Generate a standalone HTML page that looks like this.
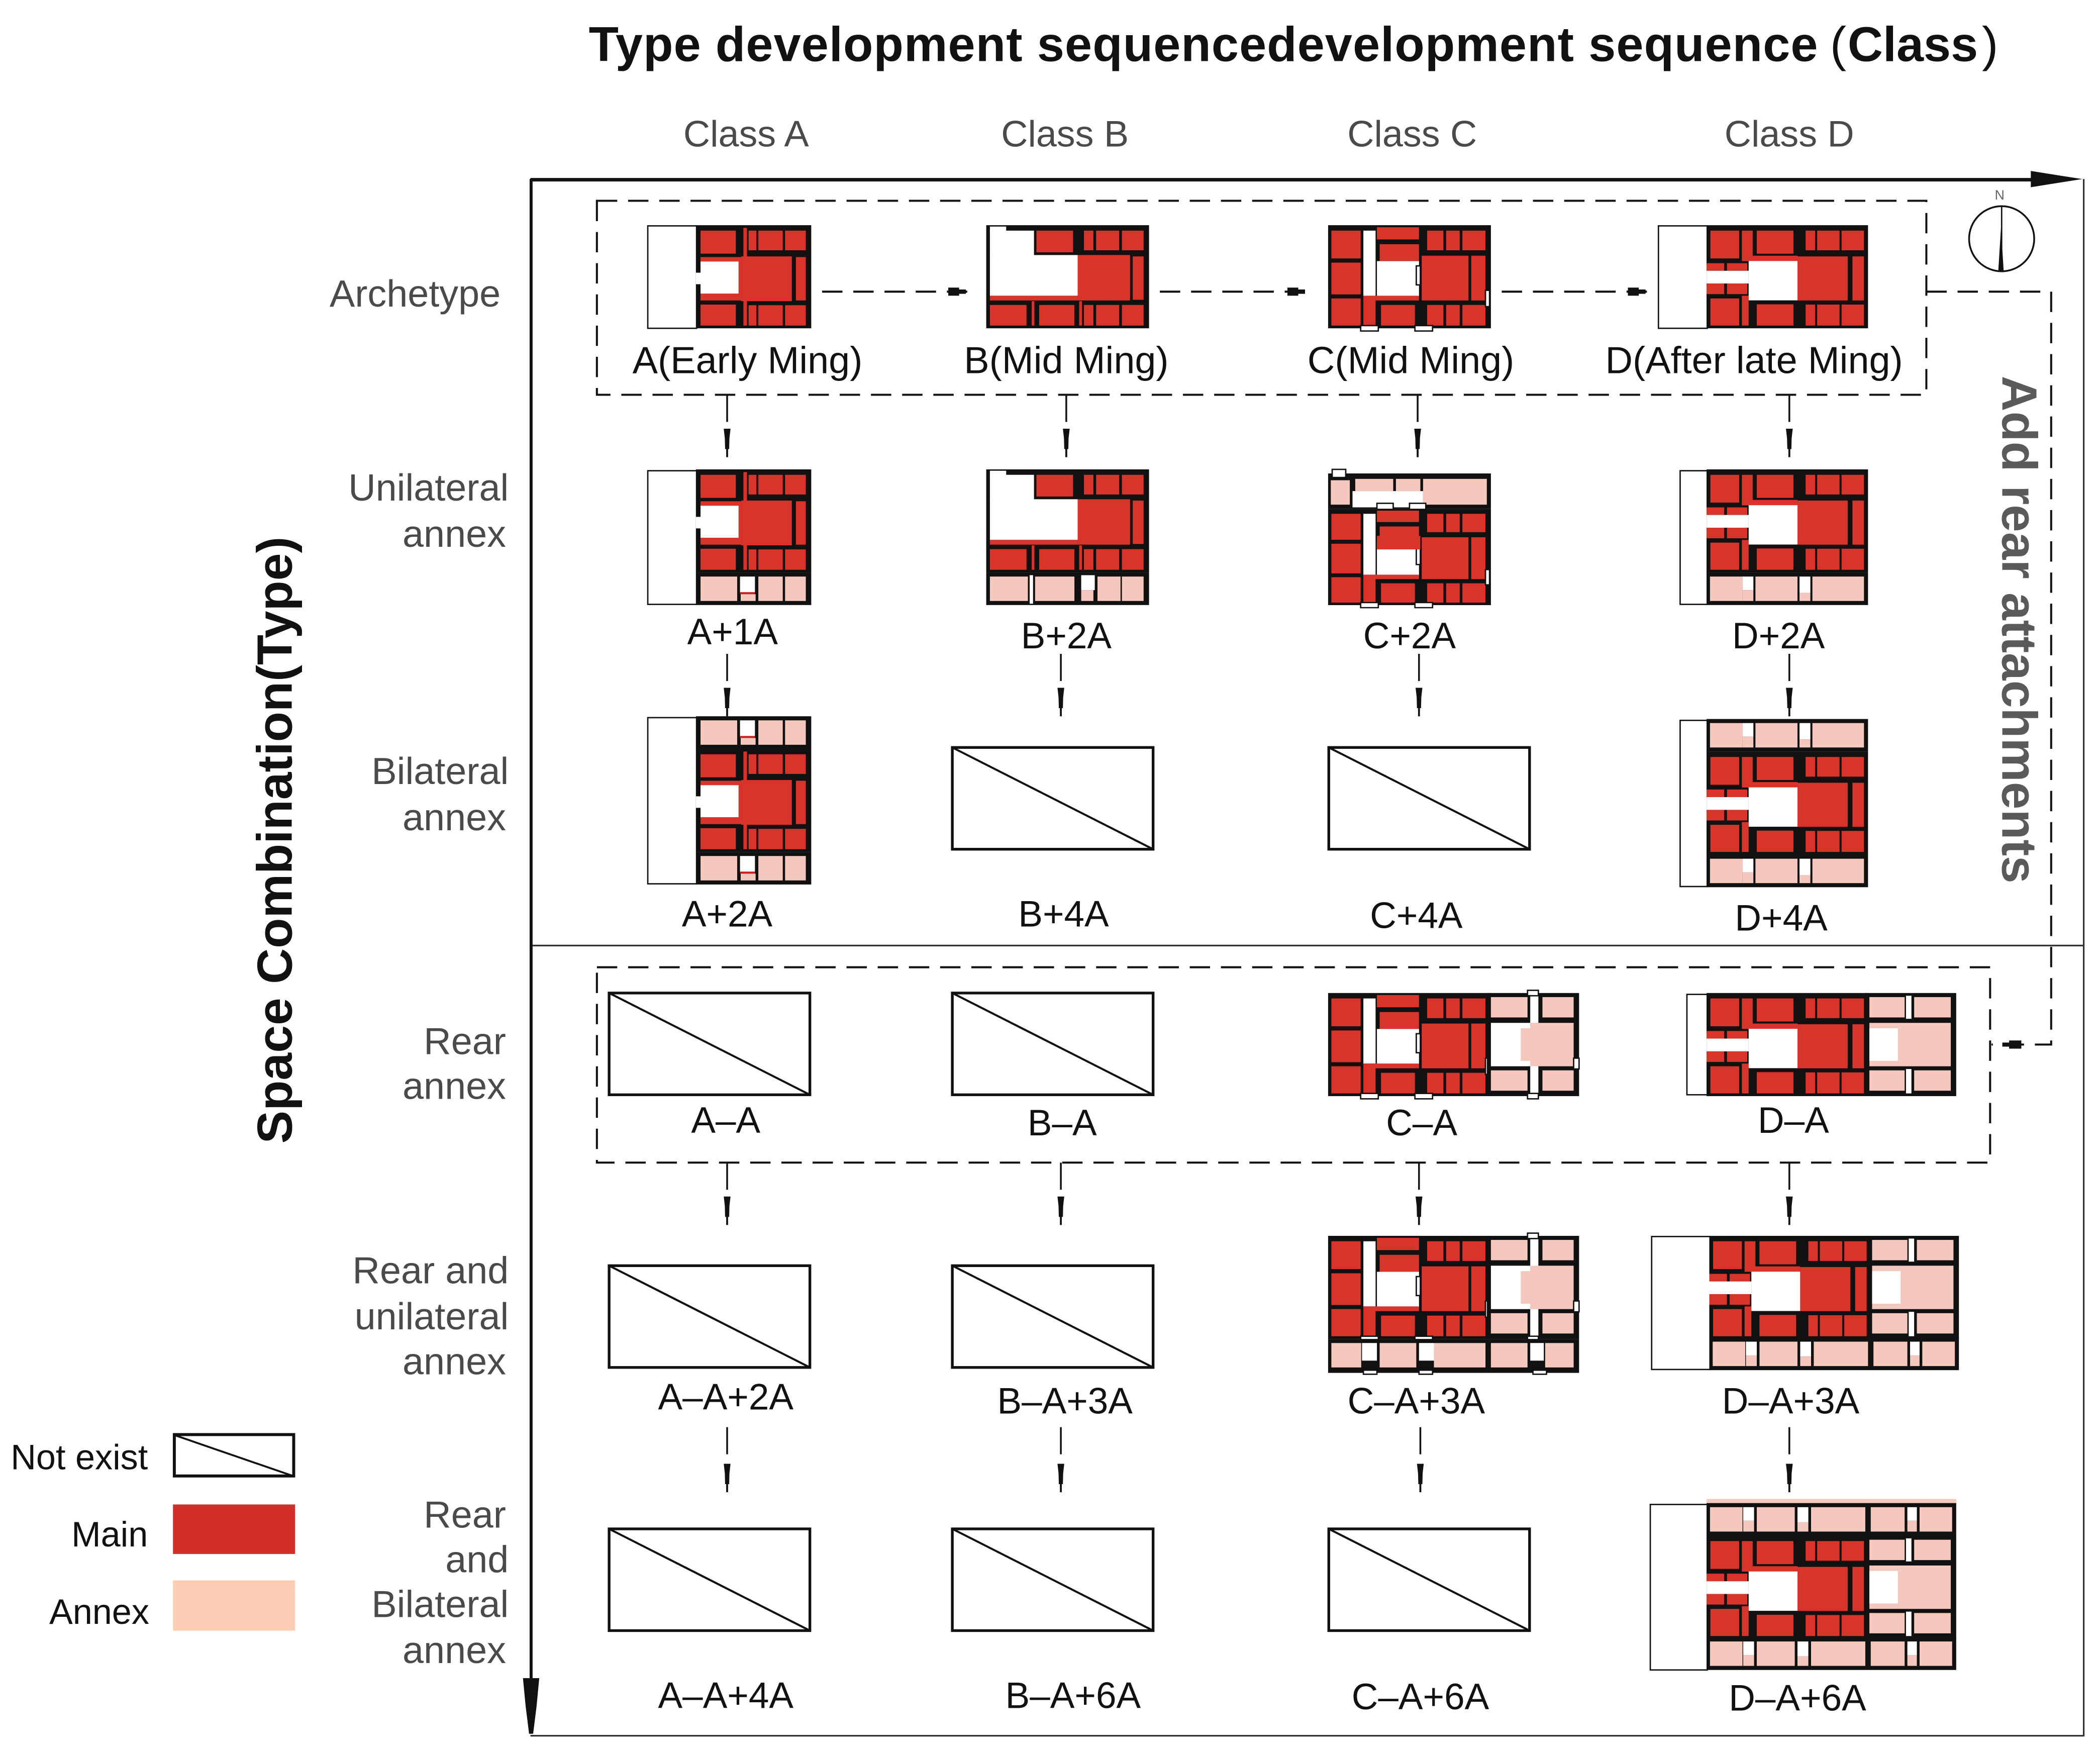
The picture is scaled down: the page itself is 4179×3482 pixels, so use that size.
<!DOCTYPE html>
<html>
<head>
<meta charset="utf-8">
<title>Type development sequence</title>
<style>
html,body{margin:0;padding:0;background:#fff;}
svg{display:block;width:4179px;height:3482px;}
text{font-family:"Liberation Sans","Noto Sans CJK SC",sans-serif;}
.c{font-size:27.3px;fill:#4a4a4a;text-anchor:middle;}
.r{font-size:28px;fill:#4a4a4a;text-anchor:end;}
.l{font-size:27px;fill:#111;text-anchor:middle;}
.la{font-size:28px;fill:#111;text-anchor:middle;}
.k{font-size:26px;fill:#111;text-anchor:end;}
.ds{fill:none;stroke:#111;stroke-width:1.5;stroke-dasharray:15 8;}
.ln{fill:none;stroke:#111;stroke-width:1.3;}
.m{fill:#d8342b;}
.p{fill:#f5c8bd;}
.w{fill:#fff;}
.o{fill:#fff;stroke:#111;stroke-width:1;}
</style>
</head>
<body>
<svg xmlns="http://www.w3.org/2000/svg" viewBox="0 0 1548 1290" preserveAspectRatio="none">
<defs>
  <g id="dart"><path d="M-2.5 0H2.5L1.7 7 1.5 15 .7 15 .7 21H-.7V15H-1.5L-1.7 7Z" fill="#111"/></g>
  <g id="dart-r"><path d="M0-3H8V-1.6H13V1.6H8V3H0Z" fill="#111"/></g>
  <g id="none"><rect x="0" y="0" width="148" height="75" fill="#fff" stroke="#111" stroke-width="2"/><line x1="0" y1="0" x2="148" y2="75" stroke="#111" stroke-width="1.5"/></g>

  <g id="main-a">
    <rect width="85" height="76" fill="#111"/>
    <rect class="m" x="3.4" y="4" width="26" height="17"/>
    <rect class="m" x="35" y="2" width="2.6" height="72"/>
    <rect class="m" x="38.8" y="4" width="5.8" height="14.5"/>
    <rect class="m" x="46" y="4" width="18" height="14.5"/>
    <rect class="m" x="65.7" y="4" width="15.3" height="14.5"/>
    <rect class="m" x="3.4" y="23.5" width="30" height="32"/>
    <rect class="m" x="33.4" y="23" width="37.3" height="33"/>
    <rect class="m" x="73.7" y="23.5" width="7.3" height="32"/>
    <rect class="w" x="3.4" y="26.8" width="28" height="23.6"/>
    <rect class="w" x="0" y="35" width="4" height="8.5"/>
    <rect class="m" x="3.4" y="58.5" width="26" height="15.5"/>
    <rect class="m" x="38.8" y="59" width="5.8" height="15"/>
    <rect class="m" x="46" y="59" width="18" height="15"/>
    <rect class="m" x="65.7" y="59" width="15.3" height="15"/>
  </g>

  <g id="main-b">
    <rect width="120" height="76" fill="#111"/>
    <rect class="w" x="2.7" y="4" width="32.5" height="18.5"/>
    <rect class="w" x="2.7" y="1" width="12" height="4"/>
    <rect class="w" x="2.7" y="22" width="64.7" height="30"/>
    <rect class="m" x="37" y="4" width="27" height="16"/>
    <rect class="m" x="72" y="4" width="7" height="14.5"/>
    <rect class="m" x="81" y="4" width="17" height="14.5"/>
    <rect class="m" x="100" y="4" width="16" height="14.5"/>
    <rect class="m" x="67.4" y="22" width="38.6" height="33.5"/>
    <rect class="m" x="108" y="23" width="8" height="32"/>
    <rect class="m" x="2.7" y="52" width="64.7" height="3.5"/>
    <rect class="m" x="2.7" y="58.8" width="27" height="15.2"/>
    <rect class="m" x="33.5" y="56" width="2" height="18"/>
    <rect class="m" x="39" y="58.8" width="26" height="15.2"/>
    <rect class="m" x="68.5" y="56" width="2" height="18"/>
    <rect class="m" x="72" y="58.8" width="7" height="15.2"/>
    <rect class="m" x="81" y="58.8" width="17" height="15.2"/>
    <rect class="m" x="100" y="58.8" width="16" height="15.2"/>
  </g>

  <g id="main-c">
    <rect width="120" height="76" fill="#111"/>
    <rect class="m" x="2.4" y="4" width="21.6" height="20.5"/>
    <rect class="m" x="2.4" y="27.6" width="21.6" height="23.4"/>
    <rect class="m" x="2.4" y="54" width="21.6" height="20"/>
    <rect class="w" x="26" y="4" width="9" height="48"/>
    <rect class="m" x="36" y="1.5" width="31" height="9"/>
    <rect class="m" x="38" y="14" width="29" height="12.5"/>
    <rect class="w" x="36" y="26.5" width="31" height="26.3"/>
    <rect class="m" x="26" y="52" width="41" height="3.5"/>
    <rect class="m" x="26" y="55" width="9" height="19"/>
    <rect class="m" x="39" y="58.8" width="25" height="15.2"/>
    <rect class="m" x="73" y="4" width="12" height="14.5"/>
    <rect class="m" x="87" y="4" width="10" height="14.5"/>
    <rect class="m" x="99" y="4" width="17" height="14.5"/>
    <rect class="m" x="69" y="22.5" width="34.5" height="33"/>
    <rect class="m" x="105.5" y="22.5" width="10.5" height="33"/>
    <rect class="m" x="73" y="58.8" width="12" height="15.2"/>
    <rect class="m" x="87" y="58.8" width="10" height="15.2"/>
    <rect class="m" x="99" y="58.8" width="17" height="15.2"/>
    <rect class="o" x="24" y="74" width="13" height="4"/>
    <rect class="o" x="64" y="74" width="13" height="4"/>
    <rect class="o" x="116" y="48" width="3" height="12"/>
    <rect class="o" x="65" y="30" width="3" height="14"/>
  </g>

  <g id="main-d">
    <rect width="119" height="76" fill="#111"/>
    <rect class="m" x="2.8" y="4" width="21.2" height="20.5"/>
    <rect class="m" x="0" y="28" width="13" height="5.6"/>
    <rect class="m" x="15" y="28" width="15" height="5.6"/>
    <rect class="w" x="0" y="33.6" width="31" height="9.4"/>
    <rect class="m" x="0" y="43" width="13" height="7.8"/>
    <rect class="m" x="15" y="43" width="15" height="7.8"/>
    <rect class="m" x="2.8" y="54" width="21.2" height="20"/>
    <rect class="m" x="26" y="4" width="8" height="20"/>
    <rect class="m" x="26" y="22.5" width="41" height="4"/>
    <rect class="m" x="37" y="4" width="27" height="17"/>
    <rect class="w" x="31" y="26.4" width="36" height="29"/>
    <rect class="m" x="26" y="52" width="5" height="22"/>
    <rect class="m" x="37" y="58.3" width="27" height="15.7"/>
    <rect class="m" x="73" y="4" width="7" height="14.5"/>
    <rect class="m" x="81.5" y="4" width="16.5" height="14.5"/>
    <rect class="m" x="99.5" y="4" width="16.5" height="14.5"/>
    <rect class="m" x="67" y="23" width="37" height="32.5"/>
    <rect class="m" x="107.5" y="23" width="8.5" height="32.5"/>
    <rect class="m" x="73" y="58.5" width="7" height="15.5"/>
    <rect class="m" x="81.5" y="58.5" width="16.5" height="15.5"/>
    <rect class="m" x="99.5" y="58.5" width="16.5" height="15.5"/>
  </g>

  <g id="annex-a">
    <rect width="85" height="24" fill="#111"/>
    <rect class="p" x="3.4" y="3" width="27" height="18"/>
    <rect class="w" x="32.5" y="3" width="11" height="12"/>
    <rect x="32.5" y="14.5" width="11" height="1.5" fill="#c8201c"/>
    <rect class="p" x="33" y="16" width="11" height="5"/>
    <rect class="p" x="46" y="3" width="18" height="18"/>
    <rect class="p" x="65.7" y="3" width="15.3" height="18"/>
  </g>
  <g id="annex-b">
    <rect width="120" height="24" fill="#111"/>
    <rect class="p" x="2.7" y="3" width="28" height="18"/>
    <rect class="w" x="32" y="2" width="2.5" height="21"/>
    <rect class="p" x="36" y="3" width="29" height="18"/>
    <rect class="w" x="70" y="2" width="10" height="11"/>
    <rect class="p" x="70" y="13" width="9" height="8"/>
    <rect class="p" x="82" y="3" width="17" height="18"/>
    <rect class="p" x="100" y="3" width="16" height="18"/>
  </g>
  <g id="annex-d">
    <rect width="119" height="24" fill="#111"/>
    <rect class="p" x="2.5" y="3" width="24" height="18"/>
    <rect class="w" x="26.5" y="3" width="8" height="10"/>
    <rect class="p" x="26.5" y="13" width="8" height="8"/>
    <rect class="p" x="36" y="3" width="31" height="18"/>
    <rect class="w" x="68.5" y="3" width="8" height="12"/>
    <rect class="p" x="68.5" y="15" width="8" height="6"/>
    <rect class="p" x="78" y="3" width="38" height="18"/>
  </g>
  <g id="annex-c-top">
    <rect width="120" height="26" fill="#111"/>
    <rect class="p" x="2" y="5" width="14" height="18"/>
    <rect class="w" x="18" y="13" width="52" height="12"/>
    <rect class="p" x="20" y="4" width="28" height="9"/>
    <rect class="p" x="50" y="4" width="18" height="9"/>
    <rect class="p" x="70" y="4" width="47" height="19"/>
    <rect class="o" x="3" y="-3" width="10" height="6"/>
    <rect class="o" x="36" y="22" width="12" height="6"/>
    <rect class="o" x="60" y="22" width="12" height="6"/>
  </g>
  <g id="annex-c-long">
    <rect width="185" height="25" fill="#111"/>
    <rect class="p" x="2.4" y="3" width="22" height="18"/>
    <rect class="w" x="25" y="3" width="11" height="13"/>
    <rect class="p" x="38" y="3" width="27" height="18"/>
    <rect class="w" x="67" y="3" width="11" height="13"/>
    <rect class="p" x="78" y="3" width="38" height="18"/>
    <rect class="p" x="120" y="3" width="27" height="18"/>
    <rect class="w" x="149" y="3" width="10" height="13"/>
    <rect class="p" x="160" y="3" width="21" height="18"/>
    <rect class="o" x="26" y="23" width="10" height="3"/>
    <rect class="o" x="67" y="23" width="10" height="3"/>
    <rect class="o" x="151" y="23" width="10" height="3"/>
  </g>
  <g id="annex-d-long">
    <rect width="184" height="24" fill="#111"/>
    <rect class="p" x="2.5" y="3" width="24" height="18"/>
    <rect class="w" x="27" y="3" width="8" height="10"/>
    <rect class="p" x="27" y="13" width="8" height="8"/>
    <rect class="p" x="37" y="3" width="28" height="18"/>
    <rect class="w" x="67" y="3" width="8" height="11"/>
    <rect class="p" x="67" y="14" width="8" height="7"/>
    <rect class="p" x="77" y="3" width="40" height="18"/>
    <rect class="p" x="121" y="3" width="25" height="18"/>
    <rect class="w" x="148" y="3" width="7" height="10"/>
    <rect class="p" x="148" y="13" width="7" height="8"/>
    <rect class="p" x="157" y="3" width="24" height="18"/>
  </g>
  <g id="rear-c">
    <rect x="117" y="0" width="68" height="76" fill="#111"/>
    <rect class="p" x="120" y="3" width="27" height="15"/>
    <rect class="p" x="120" y="57" width="27" height="15"/>
    <rect class="p" x="158" y="3" width="23" height="15"/>
    <rect class="p" x="158" y="57" width="23" height="15"/>
    <rect class="w" x="149" y="0" width="6" height="76"/>
    <rect class="w" x="120" y="22" width="29" height="32"/>
    <rect class="p" x="142" y="26" width="7" height="24"/>
    <rect class="p" x="149" y="22" width="32" height="32"/>
    <rect class="o" x="147" y="-2" width="8" height="4"/>
    <rect class="o" x="147" y="74" width="8" height="4"/>
    <rect class="o" x="181" y="48" width="4" height="8"/>
  </g>
  <g id="rear-d">
    <rect x="117" y="0" width="67" height="76" fill="#111"/>
    <rect class="p" x="120" y="3" width="26" height="15"/>
    <rect class="p" x="153" y="3" width="27" height="15"/>
    <rect class="p" x="120" y="22" width="60" height="32"/>
    <rect class="w" x="120" y="26" width="21" height="24"/>
    <rect class="w" x="147" y="2" width="4" height="17"/>
    <rect class="w" x="147" y="56" width="4" height="18"/>
    <rect class="p" x="120" y="57" width="26" height="15"/>
    <rect class="p" x="153" y="57" width="27" height="15"/>
  </g>
</defs>

<rect width="1548" height="1290" fill="#fff"/>

<g>
  <text x="434" y="45" font-size="36" font-weight="bold" fill="#111" textLength="906" lengthAdjust="spacing">Type development sequencedevelopment sequence</text>
  <text x="1349" y="45" font-size="36" fill="#111">(</text>
  <text x="1362" y="45" font-size="36" font-weight="bold" fill="#111">Class</text>
  <text x="1461" y="45" font-size="36" fill="#111">)</text>
</g>

<text class="c" x="550" y="108">Class A</text>
<text class="c" x="785" y="108">Class B</text>
<text class="c" x="1041" y="108">Class C</text>
<text class="c" x="1319" y="108">Class D</text>

<g>
  <line x1="1536" y1="132" x2="1536" y2="1280" stroke="#333" stroke-width="1.2"/>
  <line x1="391" y1="1279.5" x2="1536" y2="1279.5" stroke="#333" stroke-width="1.2"/>
  <line x1="391" y1="697" x2="1536" y2="697" stroke="#333" stroke-width="1.2"/>
  <line x1="391" y1="132.5" x2="1510" y2="132.5" stroke="#111" stroke-width="2.6"/>
  <line x1="391.5" y1="132" x2="391.5" y2="1278" stroke="#111" stroke-width="2.2"/>
  <path d="M1497 126L1522 130 1535 132 1522 134 1497 138Z" fill="#111"/>
  <path d="M385.5 1237H397.5L395.5 1258 393 1278H390L387.5 1258Z" fill="#111"/>
</g>

<text transform="translate(215,843) rotate(-90)" font-size="36.5" font-weight="bold" fill="#111">Space Combination(Type)</text>
<text transform="translate(1476,277) rotate(90)" font-size="36.4" font-weight="bold" fill="#5a5a5a">Add rear attachments</text>

<g>
  <text class="r" x="369" y="226">Archetype</text>
  <text class="r" x="375" y="369">Unilateral</text>
  <text class="r" x="373" y="403">annex</text>
  <text class="r" x="375" y="578">Bilateral</text>
  <text class="r" x="373" y="612">annex</text>
  <text class="r" x="373" y="777">Rear</text>
  <text class="r" x="373" y="810">annex</text>
  <text class="r" x="375" y="946">Rear and</text>
  <text class="r" x="375" y="980">unilateral</text>
  <text class="r" x="373" y="1013">annex</text>
  <text class="r" x="373" y="1126">Rear</text>
  <text class="r" x="375" y="1159">and</text>
  <text class="r" x="375" y="1192">Bilateral</text>
  <text class="r" x="373" y="1226">annex</text>
</g>

<rect class="ds" x="440" y="148" width="980" height="143"/>
<rect class="ds" x="440" y="713" width="1027" height="144"/>

<g>
  <line class="ds" x1="606" y1="215" x2="720" y2="215"/>
  <use href="#dart-r" x="699" y="215"/>
  <line class="ds" x1="855" y1="215" x2="970" y2="215"/>
  <use href="#dart-r" x="949" y="215"/>
  <line class="ds" x1="1107" y1="215" x2="1220" y2="215"/>
  <use href="#dart-r" x="1200" y="215"/>
  <path class="ds" d="M1420 215H1512V770H1468"/>
  <path d="M1490 767H1481V768.5H1476V771.5H1481V773H1490Z" fill="#111"/>
</g>

<g>
  <path class="ln" d="M536 291V311M786 291V311M1045 291V311M1319 291V311M536 482V502M782 482V502M1046 482V502M1319 482V502M536 857V877M782 857V877M1046 857V877M1319 857V877M536 1052V1072M782 1052V1072M1047 1052V1072M1319 1052V1072"/>
  <use href="#dart" x="536" y="316"/>
  <use href="#dart" x="786" y="316"/>
  <use href="#dart" x="1045" y="316"/>
  <use href="#dart" x="1319" y="316"/>
  <use href="#dart" x="536" y="507"/>
  <use href="#dart" x="782" y="507"/>
  <use href="#dart" x="1046" y="507"/>
  <use href="#dart" x="1319" y="507"/>
  <use href="#dart" x="536" y="882"/>
  <use href="#dart" x="782" y="882"/>
  <use href="#dart" x="1046" y="882"/>
  <use href="#dart" x="1319" y="882"/>
  <use href="#dart" x="536" y="1079"/>
  <use href="#dart" x="782" y="1079"/>
  <use href="#dart" x="1047" y="1079"/>
  <use href="#dart" x="1319" y="1079"/>
</g>

<g>
  <text x="1474" y="147" font-size="10" fill="#666" text-anchor="middle">N</text>
  <ellipse cx="1475.5" cy="176" rx="24" ry="24" fill="#fff" stroke="#111" stroke-width="1.3"/>
  <line x1="1475.5" y1="152" x2="1475.5" y2="200" stroke="#111" stroke-width="1"/>
  <path d="M1475 168L1477 200H1473Z" fill="#111"/>
</g>

<!-- Row 1 -->
<g>
  <rect class="o" x="477.5" y="166.5" width="36" height="75.5"/>
  <use href="#main-a" x="513" y="166"/>
</g>
<use href="#main-b" x="727" y="166"/>
<use href="#main-c" x="979" y="166"/>
<g>
  <rect class="o" x="1222.5" y="166.5" width="36" height="75.5"/>
  <use href="#main-d" x="1258" y="166"/>
</g>
<text class="la" x="551" y="275">A(Early Ming)</text>
<text class="la" x="786" y="275">B(Mid Ming)</text>
<text class="la" x="1040" y="275">C(Mid Ming)</text>
<text class="la" x="1293" y="275">D(After late Ming)</text>

<!-- Row 2 -->
<g>
  <rect class="o" x="477.5" y="347" width="36" height="98.5"/>
  <use href="#main-a" x="513" y="346"/>
  <use href="#annex-a" x="513" y="422"/>
</g>
<g>
  <use href="#main-b" x="727" y="346"/>
  <use href="#annex-b" x="727" y="422"/>
</g>
<g>
  <use href="#annex-c-top" x="979" y="349"/>
  <use href="#main-c" transform="translate(979,375) scale(1,.935)"/>
  <rect class="m" x="1015" y="395" width="32" height="10"/>
</g>
<g>
  <rect class="o" x="1238.5" y="347" width="20" height="98.5"/>
  <use href="#main-d" x="1258" y="346"/>
  <use href="#annex-d" x="1258" y="422"/>
</g>
<text class="l" x="540" y="475">A+1A</text>
<text class="l" x="786" y="478">B+2A</text>
<text class="l" x="1039" y="478">C+2A</text>
<text class="l" x="1311" y="478">D+2A</text>

<!-- Row 3 -->
<g>
  <rect class="o" x="477.5" y="529" width="36" height="122.5"/>
  <use href="#annex-a" x="513" y="528"/>
  <use href="#main-a" x="513" y="552"/>
  <use href="#annex-a" x="513" y="628"/>
</g>
<use href="#none" x="702" y="551"/>
<use href="#none" x="979.5" y="551"/>
<g>
  <rect class="o" x="1238.5" y="531" width="20" height="122.5"/>
  <use href="#annex-d" x="1258" y="530"/>
  <use href="#main-d" x="1258" y="554"/>
  <use href="#annex-d" x="1258" y="630"/>
</g>
<text class="l" x="536" y="683">A+2A</text>
<text class="l" x="784" y="683">B+4A</text>
<text class="l" x="1044" y="684">C+4A</text>
<text class="l" x="1313" y="686">D+4A</text>

<!-- Row 4 -->
<use href="#none" x="449" y="732"/>
<use href="#none" x="702" y="732"/>
<g>
  <use href="#main-c" x="979" y="732"/>
  <use href="#rear-c" x="979" y="732"/>
</g>
<g>
  <rect class="o" x="1243.5" y="733" width="15" height="74"/>
  <use href="#main-d" x="1258" y="732"/>
  <use href="#rear-d" x="1258" y="732"/>
</g>
<text class="l" x="535" y="835">A–A</text>
<text class="l" x="783" y="837">B–A</text>
<text class="l" x="1048" y="837">C–A</text>
<text class="l" x="1322" y="835">D–A</text>

<!-- Row 5 -->
<use href="#none" x="449" y="933"/>
<use href="#none" x="702" y="933"/>
<g>
  <use href="#main-c" x="979" y="911"/>
  <use href="#rear-c" x="979" y="911"/>
  <use href="#annex-c-long" x="979" y="987"/>
</g>
<g>
  <rect class="o" x="1217.5" y="911.5" width="43" height="98"/>
  <use href="#main-d" x="1260" y="911"/>
  <use href="#rear-d" x="1260" y="911"/>
  <use href="#annex-d-long" x="1260" y="986"/>
</g>
<text class="l" x="535" y="1039">A–A+2A</text>
<text class="l" x="785" y="1042">B–A+3A</text>
<text class="l" x="1044" y="1042">C–A+3A</text>
<text class="l" x="1320" y="1042">D–A+3A</text>

<!-- Row 6 -->
<use href="#none" x="449" y="1127"/>
<use href="#none" x="702" y="1127"/>
<use href="#none" x="979.5" y="1127"/>
<g>
  <rect class="o" x="1216.5" y="1109" width="42" height="122"/>
  <rect class="p" x="1258" y="1105" width="184" height="4"/>
  <use href="#annex-d-long" x="1258" y="1108"/>
  <use href="#main-d" x="1258" y="1132"/>
  <use href="#rear-d" x="1258" y="1132"/>
  <use href="#annex-d-long" x="1258" y="1207"/>
</g>
<text class="l" x="535" y="1259">A–A+4A</text>
<text class="l" x="791" y="1259">B–A+6A</text>
<text class="l" x="1047" y="1260">C–A+6A</text>
<text class="l" x="1325" y="1261">D–A+6A</text>

<!-- Legend -->
<g>
  <text class="k" x="109" y="1083">Not exist</text>
  <rect x="128.5" y="1057.5" width="88" height="30.5" fill="#fff" stroke="#111" stroke-width="2.2"/>
  <line x1="129" y1="1058" x2="216" y2="1088" stroke="#111" stroke-width="1.4"/>
  <text class="k" x="109" y="1140">Main</text>
  <rect x="127.5" y="1109" width="90" height="36.5" fill="#d32f29"/>
  <text class="k" x="110" y="1197">Annex</text>
  <rect x="127.5" y="1165" width="90" height="37" fill="#fbcdb4"/>
</g>
</svg>
</body>
</html>
